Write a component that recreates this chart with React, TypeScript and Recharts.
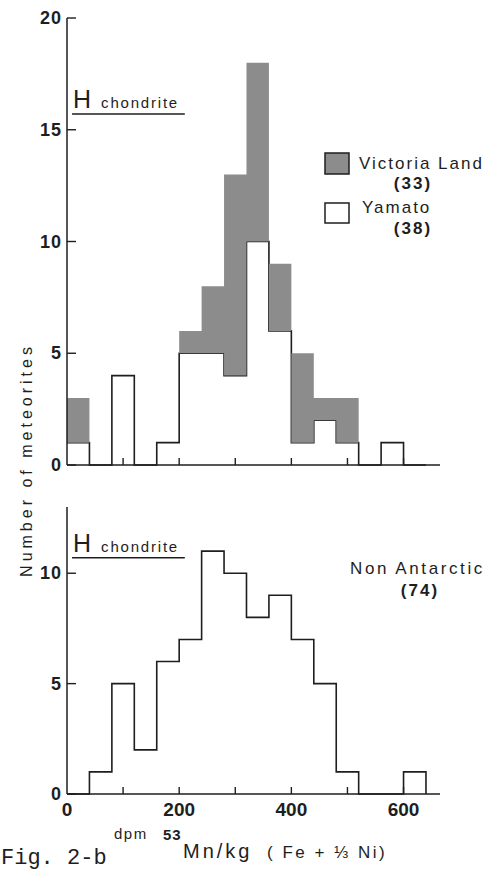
import React from 'react';
import { ComposedChart, Area, XAxis, YAxis, ReferenceLine, Legend } from 'recharts';

// histogram bins, 40 dpm wide, keyed by their left edge
const binStarts = [0, 40, 80, 120, 160, 200, 240, 280, 320, 360, 400, 440, 480, 520, 560, 600, 640];
const victoriaLand = [2, 0, 0, 0, 0, 1, 3, 9, 8, 3, 4, 1, 2, 0, 0, 0, 0];
const yamato = [1, 0, 4, 0, 1, 5, 5, 4, 10, 6, 1, 2, 1, 0, 1, 0, 0];
const nonAntarctic = [0, 1, 5, 2, 6, 7, 11, 10, 8, 9, 7, 5, 1, 0, 0, 1, 0];

const xTicks = [0, 100, 200, 300, 400, 500, 600];
const xLabelTicks = [0, 200, 400, 600];
const topYTicks = [0, 5, 10, 15, 20];
const bottomYTicks = [0, 5, 10];

const topSeries = ['Victoria Land', 'Yamato'];
const topCounts = [33, 38];
const bottomSeries = ['Non Antarctic'];
const bottomCounts = [74];

// H chondrite range marker (dpm) and the height it is drawn at in each panel
const hRange = [9, 210];
const hLevelTop = 15.7;
const hLevelBottom = 10.7;

const topData = binStarts.map((x, i) => ({ x, yamato: yamato[i], victoria: victoriaLand[i] }));
const bottomData = binStarts.map((x, i) => ({ x, count: nonAntarctic[i] }));

const SANS = '"Liberation Sans", Arial, Helvetica, sans-serif';
const MONO = '"Liberation Mono", "DejaVu Sans Mono", monospace';
const INK = '#1e1e1e';
const GREY = '#8c8c8c';

const XTick = (props: any) => {
  const { x, y, payload, showLabel } = props;
  const v = payload.value;
  return (
    <g>
      {v !== 0 && <line x1={x} x2={x} y1={y} y2={y - 7} stroke={INK} strokeWidth={1.4} />}
      {showLabel && xLabelTicks.includes(v) && (
        <text x={x} y={y + 15} textAnchor="middle" dominantBaseline="central"
          fontFamily={SANS} fontWeight="bold" fontSize={19} fill={INK}>{v}</text>
      )}
    </g>
  );
};

const YTick = (props: any) => {
  const { x, y, payload } = props;
  return (
    <g>
      <line x1={x} x2={x + 9} y1={y} y2={y} stroke={INK} strokeWidth={1.4} />
      <text x={x - 5} y={y} textAnchor="end" dominantBaseline="central"
        fontFamily={SANS} fontWeight="bold" fontSize={18} letterSpacing={1} fill={INK}>{payload.value}</text>
    </g>
  );
};

const HLabel = ({ viewBox }: any) => (
  <text x={viewBox.x + 1} y={viewBox.y - 6} fill={INK} fontFamily={SANS}>
    <tspan fontSize={25}>H</tspan>
    <tspan fontSize={15} dx={10} letterSpacing={1.8}>chondrite</tspan>
  </text>
);

const TopLegend = () => (
  <svg width={178} height={100}>
    <rect x={7} y={8} width={24} height={21} fill={GREY} stroke={INK} strokeWidth={1.5} />
    <text x={41} y={18} dominantBaseline="central" fontFamily={SANS} fontSize={17} letterSpacing={2} fill={INK}>{topSeries[0]}</text>
    <text x={95} y={38} textAnchor="middle" dominantBaseline="central" fontFamily={SANS} fontWeight="bold" fontSize={17} letterSpacing={2} fill={INK}>({topCounts[0]})</text>
    <rect x={7} y={58} width={24} height={20} fill="#fff" stroke={INK} strokeWidth={1.5} />
    <text x={44} y={62} dominantBaseline="central" fontFamily={SANS} fontSize={17} letterSpacing={2} fill={INK}>{topSeries[1]}</text>
    <text x={95} y={83} textAnchor="middle" dominantBaseline="central" fontFamily={SANS} fontWeight="bold" fontSize={17} letterSpacing={2} fill={INK}>({topCounts[1]})</text>
  </svg>
);

const BottomLegend = () => (
  <svg width={150} height={50}>
    <text x={2} y={13} dominantBaseline="central" fontFamily={SANS} fontSize={17} letterSpacing={2.6} fill={INK}>{bottomSeries[0]}</text>
    <text x={72} y={35} textAnchor="middle" dominantBaseline="central" fontFamily={SANS} fontWeight="bold" fontSize={17} letterSpacing={2} fill={INK}>({bottomCounts[0]})</text>
  </svg>
);

export default function App() {
  return (
    <div style={{ position: 'absolute', left: 0, top: 0, width: 496, height: 874, background: '#fff', overflow: 'hidden' }}>
      <div style={{ position: 'absolute', left: 0, top: 0 }}>
        <ComposedChart width={496} height={480} data={topData} margin={{ top: 18, right: 56, left: 27, bottom: 0 }}>
          <XAxis dataKey="x" type="number" domain={[0, 665]} ticks={xTicks} interval={0} height={15}
            axisLine={{ stroke: INK, strokeWidth: 1.5 }} tickLine={false} tickSize={0} tickMargin={0}
            tick={(p: any) => <XTick {...p} showLabel={false} />} />
          <YAxis type="number" domain={[0, 20]} ticks={topYTicks} interval={0} width={40}
            axisLine={{ stroke: INK, strokeWidth: 1.5 }} tickLine={false} tickSize={0} tickMargin={0}
            tick={(p: any) => <YTick {...p} />} />
          <Area type="stepAfter" dataKey="yamato" name={topSeries[1]} stackId="a" fill="#fff" fillOpacity={1}
            stroke={INK} strokeWidth={1.6} isAnimationActive={false} dot={false} activeDot={false} />
          <Area type="stepAfter" dataKey="victoria" name={topSeries[0]} stackId="a" fill={GREY} fillOpacity={1}
            stroke="none" isAnimationActive={false} dot={false} activeDot={false} />
          <ReferenceLine segment={[{ x: hRange[0], y: hLevelTop }, { x: hRange[1], y: hLevelTop }]}
            stroke={INK} strokeWidth={1.5} label={(p: any) => <HLabel viewBox={p.viewBox} />} />
          <Legend layout="horizontal" verticalAlign="middle" align="center" content={() => <TopLegend />}
            wrapperStyle={{ position: 'absolute', top: 145, left: 318, width: 178, height: 100 }} />
        </ComposedChart>
      </div>
      <div style={{ position: 'absolute', left: 0, top: 480 }}>
        <ComposedChart width={496} height={394} data={bottomData} margin={{ top: 27, right: 56, left: 27, bottom: 50 }}>
          <XAxis dataKey="x" type="number" domain={[0, 665]} ticks={xTicks} interval={0} height={30}
            axisLine={{ stroke: INK, strokeWidth: 1.5 }} tickLine={false} tickSize={0} tickMargin={0}
            tick={(p: any) => <XTick {...p} showLabel={true} />} />
          <YAxis type="number" domain={[0, 13]} ticks={bottomYTicks} interval={0} width={40}
            axisLine={{ stroke: INK, strokeWidth: 1.5 }} tickLine={false} tickSize={0} tickMargin={0}
            tick={(p: any) => <YTick {...p} />} />
          <Area type="stepAfter" dataKey="count" name={bottomSeries[0]} fill="none" stroke={INK} strokeWidth={1.6}
            isAnimationActive={false} dot={false} activeDot={false} />
          <ReferenceLine segment={[{ x: hRange[0], y: hLevelBottom }, { x: hRange[1], y: hLevelBottom }]}
            stroke={INK} strokeWidth={1.5} label={(p: any) => <HLabel viewBox={p.viewBox} />} />
          <Legend layout="horizontal" verticalAlign="middle" align="center" content={() => <BottomLegend />}
            wrapperStyle={{ position: 'absolute', top: 75, left: 348, width: 150, height: 50 }} />
        </ComposedChart>
      </div>
      <svg width={60} height={874} style={{ position: 'absolute', left: 0, top: 0 }}>
        <text x={0} y={0} transform="translate(26 460) rotate(-90)" textAnchor="middle" dominantBaseline="central"
          fontFamily={SANS} fontSize={16} letterSpacing={4} fill={INK}>Number of meteorites</text>
      </svg>
      <svg width={496} height={54} style={{ position: 'absolute', left: 0, top: 820 }}>
        <text x={1} y={44} fontFamily={MONO} fontSize={22} fill={INK}>Fig. 2-b</text>
        <text x={114} y={19} fontFamily={SANS} fontSize={15} letterSpacing={1.5} fill={INK}>dpm</text>
        <text x={163} y={20} fontFamily={SANS} fontSize={15} fontWeight="bold" letterSpacing={1} fill={INK}>53</text>
        <text x={183} y={38} fontFamily={SANS} fontSize={20} letterSpacing={3} fill={INK}>Mn/kg</text>
        <text x={267} y={38} fontFamily={SANS} fontSize={17} letterSpacing={2.5} fill={INK}>( Fe + ⅓ Ni)</text>
      </svg>
    </div>
  );
}
